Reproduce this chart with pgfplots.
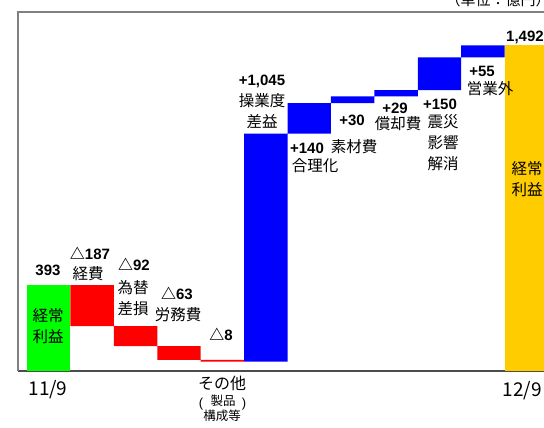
\documentclass[border=0pt]{standalone}
\usepackage{fontspec}
\setmainfont{Liberation Sans}
\newfontfamily\jp{Noto Sans CJK JP}
\usepackage{pgfplots}
\usepackage{pgfplotstable}
\pgfplotsset{compat=1.18}

\definecolor{cgreen}{HTML}{00FF00}
\definecolor{cred}{HTML}{FF0000}
\definecolor{cblue}{HTML}{0000FF}
\definecolor{cyellow}{HTML}{FFCC00}

% waterfall: invisible base + visible step (unit: 100 million yen)
\pgfplotstableread{
x  base green red blue yellow
0  0    393   0   0    0
1  206  0     187 0    0
2  114  0     92  0    0
3  51   0     63  0    0
4  43   0     8   0    0
5  43   0     0   1045 0
6  1088 0     0   140  0
7  1228 0     0   30   0
8  1258 0     0   29   0
9  1287 0     0   150  0
10 1437 0     0   55   0
11 0    0     0   0    1492
}\bridge

\newcommand\jl{\jp\fontsize{15.5}{21}\selectfont}
\newcommand\nl{\fontsize{15}{17}\selectfont\bfseries}
\newcommand\tri{{\jp\bfseries △}}
% place text at picture pixel position (x from left, y from top)
\newcommand\T[4][]{\node[inner sep=0pt, align=center, #1] at (#2pt,428pt-#3pt) {#4};}
\newcommand\J[3]{\T[font=\jl]{#1}{#2}{#3}}
\newcommand\N[3]{\T[font=\nl]{#1}{#2}{#3}}

\begin{document}
\begin{tikzpicture}
\path[use as bounding box] (0,0) rectangle (544pt,428pt);
\clip (0,0) rectangle (544pt,428pt);
\begin{axis}[
  at={(18pt,57pt)}, anchor=south west,
  scale only axis, width=526pt, height=359pt,
  xmin=-0.707, xmax=11.407, ymin=0, ymax=1645,
  axis line style={draw=none},
  xtick=\empty, ytick=\empty,
  ybar stacked, bar width=1,
  clip=false,
]
\addplot[draw=none, fill=none] table[x=x, y=base] {\bridge};
\addplot[draw=none, fill=cgreen] table[x=x, y=green] {\bridge};
\addplot[draw=none, fill=cred] table[x=x, y=red] {\bridge};
\addplot[draw=none, fill=cblue] table[x=x, y=blue] {\bridge};
\addplot[draw=none, fill=cyellow] table[x=x, y=yellow] {\bridge};
\draw[gray, line width=1.3pt] (rel axis cs:1.05,1) -- (rel axis cs:0,1) -- (rel axis cs:0,0);
\draw[black!70, line width=1.1pt] (rel axis cs:0,0) -- (rel axis cs:1.05,0);
\end{axis}

% unit note (cut at top edge, as in the source)
\T[font=\jp\fontsize{15}{17}\selectfont]{498}{0}{（単位：億円）}

% values and item names
\N{48}{270}{393}
\J{48}{326}{経常\\利益}
\N{90}{253}{\tri187}
\J{88}{274}{経費}
\N{134}{264}{\tri92}
\J{133}{298}{為替\\差損}
\N{177}{293}{\tri63}
\J{178}{315}{労務費}
\N{221}{334}{\tri8}
\N{262}{81}{+1,045}
\J{262}{111}{操業度\\差益}
\N{307}{148}{+140}
\J{315}{166}{合理化}
\N{352}{120}{+30}
\J{354}{147}{素材費}
\N{395}{108}{+29}
\J{398}{124}{償却費}
\N{440}{104}{+150}
\J{443}{143}{震災\\影響\\解消}
\N{482}{71}{+55}
\J{490}{89}{営業外}
\N{525}{37}{1,492}
\J{527}{179}{経常\\利益}

% category labels under the axis
\T[font=\jp\fontsize{19}{21}\selectfont]{48}{390}{11/9}
\T[font=\jp\fontsize{19}{21}\selectfont]{522}{391}{12/9}
\T[font=\jp\fontsize{16}{18}\selectfont]{222}{383}{その他}
\T[font=\jp\fontsize{12.5}{15}\selectfont]{223}{401}{製品}
\T[font=\jp\fontsize{12.5}{15}\selectfont]{222}{416}{構成等}
\T[font=\fontsize{13}{13}\selectfont]{201}{404}{(}
\T[font=\fontsize{13}{13}\selectfont]{244}{404}{)}
\end{tikzpicture}
\end{document}
